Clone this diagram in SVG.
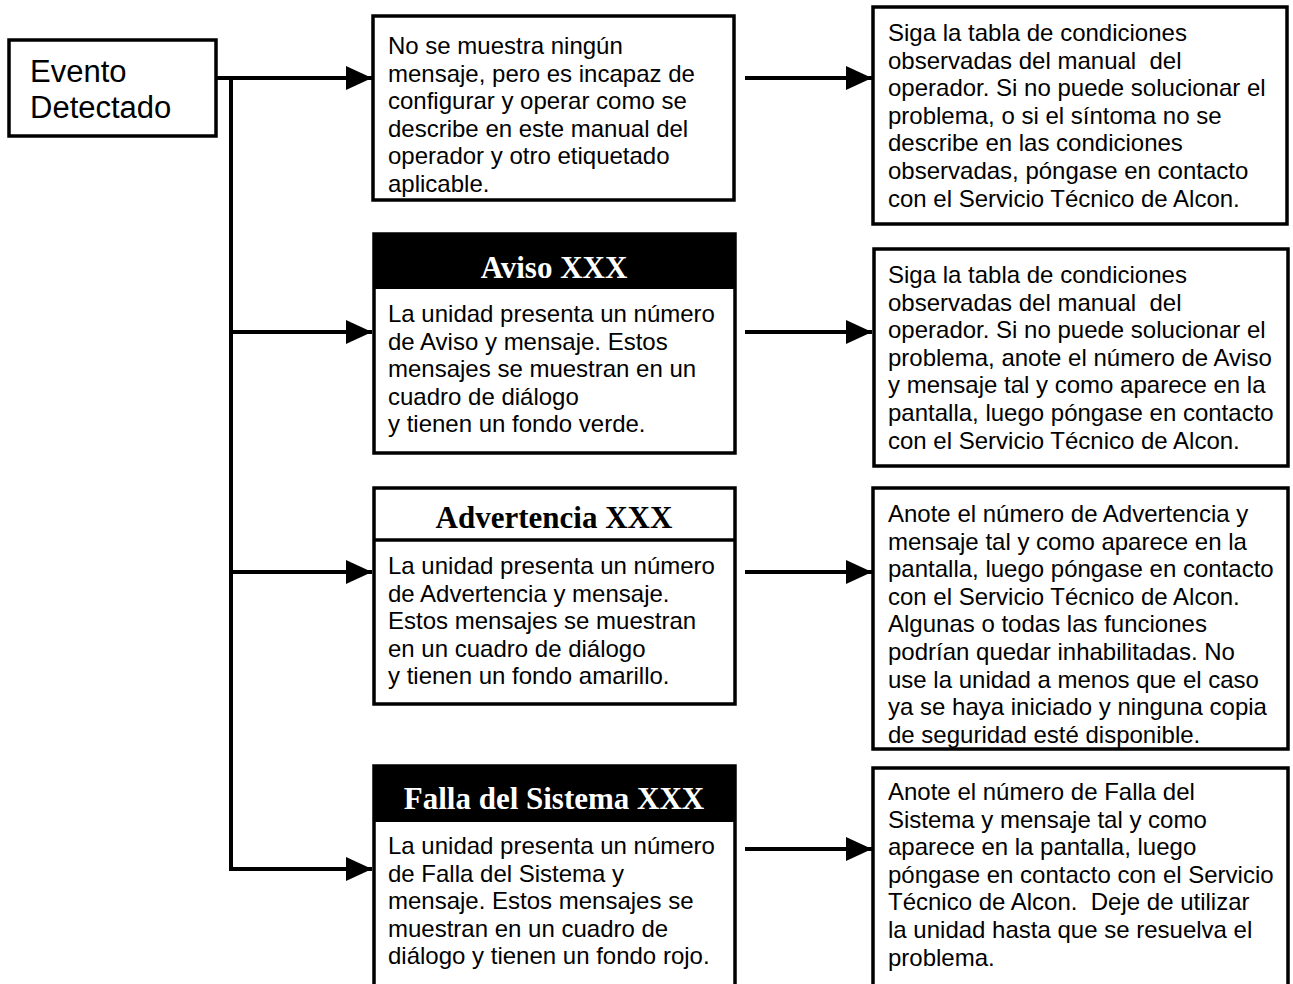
<svg xmlns="http://www.w3.org/2000/svg" width="1293" height="984" viewBox="0 0 1293 984">
<style>
.box{fill:#fff;stroke:#000;stroke-width:3.5}
.hdr{fill:#000}
.t{font-family:"Liberation Sans",Arial,sans-serif;font-size:24px;fill:#000;white-space:pre}
.big{font-family:"Liberation Sans",Arial,sans-serif;font-size:31px;fill:#000}
.h{font-family:"Liberation Serif","Times New Roman",serif;font-size:31px;font-weight:bold;text-anchor:middle}
.wh{fill:#fff}
.bk{fill:#000}
.ln{stroke:#000;stroke-width:4;fill:none}
</style>
<defs>
<marker id="ah" viewBox="0 0 26 24" refX="26" refY="12" markerWidth="26" markerHeight="24" markerUnits="userSpaceOnUse" orient="auto">
<path d="M0,0 L26,12 L0,24 Z" fill="#000"/>
</marker>
</defs>
<rect width="1293" height="984" fill="#fff"/>

<g id="connectors">
<path class="ln" d="M217,78 H372" marker-end="url(#ah)"/>
<path class="ln" d="M231,78 V869 H372" marker-end="url(#ah)"/>
<path class="ln" d="M231,332 H372" marker-end="url(#ah)"/>
<path class="ln" d="M231,572 H372" marker-end="url(#ah)"/>
<path class="ln" d="M745,78 H872" marker-end="url(#ah)"/>
<path class="ln" d="M745,332 H872" marker-end="url(#ah)"/>
<path class="ln" d="M745,572 H872" marker-end="url(#ah)"/>
<path class="ln" d="M745,849 H872" marker-end="url(#ah)"/>
</g>

<g id="evento">
<rect class="box" x="9" y="40" width="207" height="96"/>
<text class="big" x="30" y="82">Evento</text>
<text class="big" x="30" y="118">Detectado</text>
</g>

<g id="sin-mensaje">
<rect class="box" x="373" y="16" width="361" height="184"/>
<text class="t" x="388" y="54">No se muestra ningún</text>
<text class="t" x="388" y="81.6">mensaje, pero es incapaz de</text>
<text class="t" x="388" y="109.2">configurar y operar como se</text>
<text class="t" x="388" y="136.8">describe en este manual del</text>
<text class="t" x="388" y="164.4">operador y otro etiquetado</text>
<text class="t" x="388" y="192">aplicable.</text>
</g>

<g id="accion-1">
<rect class="box" x="873" y="7" width="414" height="217"/>
<text class="t" x="888" y="41">Siga la tabla de condiciones</text>
<text class="t" x="888" y="68.6">observadas del manual  del</text>
<text class="t" x="888" y="96.2">operador. Si no puede solucionar el</text>
<text class="t" x="888" y="123.8">problema, o si el síntoma no se</text>
<text class="t" x="888" y="151.4">describe en las condiciones</text>
<text class="t" x="888" y="179">observadas, póngase en contacto</text>
<text class="t" x="888" y="206.6">con el Servicio Técnico de Alcon.</text>
</g>

<g id="aviso">
<rect class="box" x="374" y="234" width="361" height="219"/>
<rect class="hdr" x="374" y="234" width="361" height="55"/>
<text class="h wh" x="554" y="278">Aviso XXX</text>
<text class="t" x="388" y="322">La unidad presenta un número</text>
<text class="t" x="388" y="349.6">de Aviso y mensaje. Estos</text>
<text class="t" x="388" y="377.2">mensajes se muestran en un</text>
<text class="t" x="388" y="404.8">cuadro de diálogo</text>
<text class="t" x="388" y="432.4">y tienen un fondo verde.</text>
</g>

<g id="accion-2">
<rect class="box" x="874" y="249" width="414" height="217"/>
<text class="t" x="888" y="283">Siga la tabla de condiciones</text>
<text class="t" x="888" y="310.6">observadas del manual  del</text>
<text class="t" x="888" y="338.2">operador. Si no puede solucionar el</text>
<text class="t" x="888" y="365.8">problema, anote el número de Aviso</text>
<text class="t" x="888" y="393.4">y mensaje tal y como aparece en la</text>
<text class="t" x="888" y="421">pantalla, luego póngase en contacto</text>
<text class="t" x="888" y="448.6">con el Servicio Técnico de Alcon.</text>
</g>

<g id="advertencia">
<rect class="box" x="374" y="488" width="361" height="216"/>
<line x1="374" y1="540" x2="735" y2="540" stroke="#000" stroke-width="3.5"/>
<text class="h bk" x="554" y="528">Advertencia XXX</text>
<text class="t" x="388" y="574">La unidad presenta un número</text>
<text class="t" x="388" y="601.6">de Advertencia y mensaje.</text>
<text class="t" x="388" y="629.2">Estos mensajes se muestran</text>
<text class="t" x="388" y="656.8">en un cuadro de diálogo</text>
<text class="t" x="388" y="684.4">y tienen un fondo amarillo.</text>
</g>

<g id="accion-3">
<rect class="box" x="873" y="488" width="415" height="261"/>
<text class="t" x="888" y="522">Anote el número de Advertencia y</text>
<text class="t" x="888" y="549.6">mensaje tal y como aparece en la</text>
<text class="t" x="888" y="577.2">pantalla, luego póngase en contacto</text>
<text class="t" x="888" y="604.8">con el Servicio Técnico de Alcon.</text>
<text class="t" x="888" y="632.4">Algunas o todas las funciones</text>
<text class="t" x="888" y="660">podrían quedar inhabilitadas. No</text>
<text class="t" x="888" y="687.6">use la unidad a menos que el caso</text>
<text class="t" x="888" y="715.2">ya se haya iniciado y ninguna copia</text>
<text class="t" x="888" y="742.8">de seguridad esté disponible.</text>
</g>

<g id="falla">
<rect class="box" x="374" y="766" width="361" height="230"/>
<rect class="hdr" x="374" y="766" width="361" height="56"/>
<text class="h wh" x="554" y="809">Falla del Sistema XXX</text>
<text class="t" x="388" y="854">La unidad presenta un número</text>
<text class="t" x="388" y="881.6">de Falla del Sistema y</text>
<text class="t" x="388" y="909.2">mensaje. Estos mensajes se</text>
<text class="t" x="388" y="936.8">muestran en un cuadro de</text>
<text class="t" x="388" y="964.4">diálogo y tienen un fondo rojo.</text>
</g>

<g id="accion-4">
<rect class="box" x="873" y="768" width="415" height="230"/>
<text class="t" x="888" y="800">Anote el número de Falla del</text>
<text class="t" x="888" y="827.6">Sistema y mensaje tal y como</text>
<text class="t" x="888" y="855.2">aparece en la pantalla, luego</text>
<text class="t" x="888" y="882.8">póngase en contacto con el Servicio</text>
<text class="t" x="888" y="910.4">Técnico de Alcon.  Deje de utilizar</text>
<text class="t" x="888" y="938">la unidad hasta que se resuelva el</text>
<text class="t" x="888" y="965.6">problema.</text>
</g>
</svg>
